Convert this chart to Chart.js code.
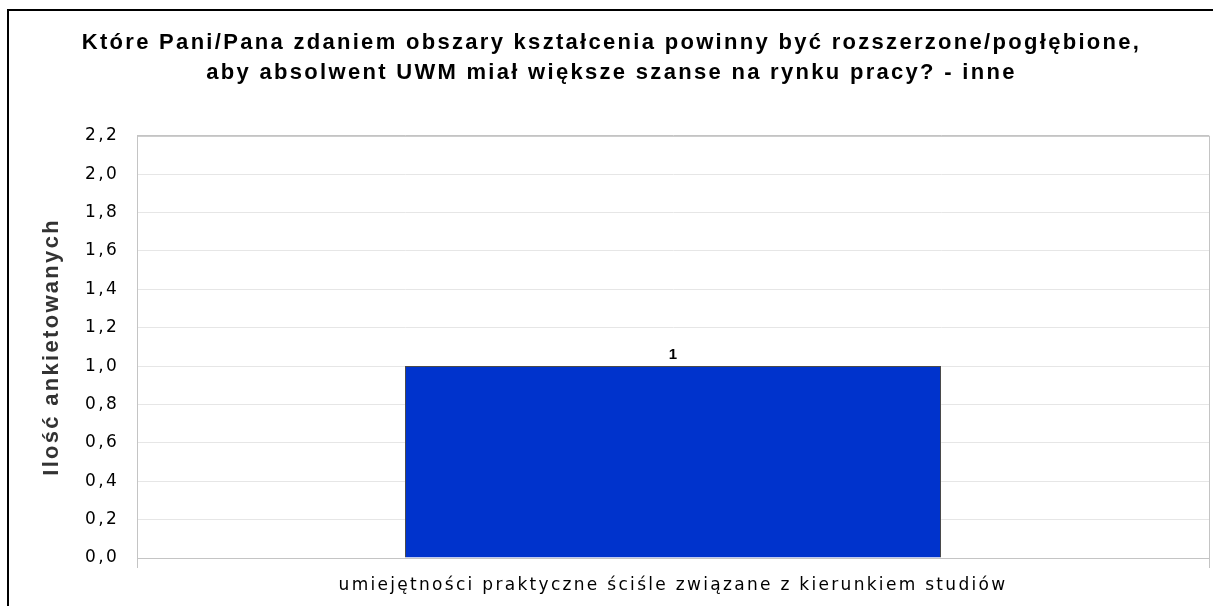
<!DOCTYPE html>
<html>
<head>
<meta charset="utf-8">
<script src="https://cdn.jsdelivr.net/npm/chart.js@4"></script>
<style>
    body { margin: 0; background: #fff; }
    .frame {
        position: absolute; left: 7px; top: 9px; width: 1206px; height: 597px;
        border-top: 2px solid #000; border-left: 2px solid #000;
    }
    #chart { position: absolute; left: 0; top: 0; }
</style>
</head>
<body>
<div class="frame"></div>
<canvas id="chart" width="1213" height="606"></canvas>
<script>
// data
const titleLines = [
    'Które Pani/Pana zdaniem obszary kształcenia powinny być rozszerzone/pogłębione,',
    'aby absolwent UWM miał większe szanse na rynku pracy? - inne'
];
const categories = ['umiejętności praktyczne ściśle związane z kierunkiem studiów'];
const answers = [1];
const yTitle = 'Ilość ankietowanych';
const yMin = 0, yMax = 2.2, yStep = 0.2;

// the original renders all text with wide letter spacing
const spacing = {
    id: 'spacing',
    beforeDraw(chart) {
        chart.ctx.letterSpacing = '2.3px';
    }
};

// value label above the bar
const barLabels = {
    id: 'barLabels',
    afterDatasetsDraw(chart) {
        const ctx = chart.ctx;
        ctx.save();
        ctx.letterSpacing = '0px';
        ctx.font = 'bold 15px "Liberation Sans"';
        ctx.fillStyle = '#000';
        ctx.textAlign = 'center';
        ctx.textBaseline = 'bottom';
        chart.getDatasetMeta(0).data.forEach((bar, i) => {
            ctx.fillText(answers[i], bar.x, bar.y - 4);
        });
        ctx.restore();
    }
};

// grey frame round the plot area
const plotFrame = {
    id: 'plotFrame',
    afterDraw(chart) {
        const a = chart.chartArea, ctx = chart.ctx;
        ctx.save();
        ctx.strokeStyle = '#c4c4c4';
        ctx.lineWidth = 1;
        ctx.strokeRect(a.left + 0.5, a.top + 0.5, a.right - a.left, a.bottom - a.top);
        ctx.restore();
    }
};

const ctx = document.getElementById('chart').getContext('2d');
const chart = new Chart(ctx, {
    type: 'bar',
    data: {
        labels: categories,
        datasets: [{
            data: answers,
            backgroundColor: '#0033cc',
            borderColor: '#4a4a4a',
            borderWidth: 1,
            categoryPercentage: 0.5,
            barPercentage: 1.0
        }]
    },
    options: {
        responsive: false,
        animation: false,
        layout: { padding: { left: 14, right: 4, top: 0, bottom: 0 } },
        plugins: {
            legend: { display: false },
            tooltip: { enabled: false },
            title: {
                display: true,
                text: titleLines,
                color: '#000',
                font: { family: 'Liberation Sans', size: 22, weight: 'bold', lineHeight: 1.36 },
                padding: { top: 28, bottom: 48 }
            }
        },
        scales: {
            x: {
                grid: { offset: true, color: '#c4c4c4', tickLength: 10 },
                border: { color: '#c4c4c4' },
                ticks: { color: '#000', font: { family: 'DejaVu Sans', size: 17 }, padding: 7 },
                afterFit(scale) { scale.height = 48; }
            },
            y: {
                min: yMin,
                max: yMax,
                grid: {
                    drawTicks: false,
                    color: c => c.tick && c.tick.value >= yMax - 1e-9 ? '#c4c4c4' : '#e6e6e6'
                },
                border: { color: '#c4c4c4' },
                ticks: {
                    stepSize: yStep,
                    color: '#000',
                    padding: 18,
                    font: { family: 'DejaVu Sans', size: 17 },
                    callback: v => v.toFixed(1).replace('.', ',')
                },
                title: {
                    display: true,
                    text: yTitle,
                    color: '#333',
                    font: { family: 'Liberation Sans', size: 22, weight: 'bold' },
                    padding: { top: 25, bottom: 0 }
                },
                afterFit(scale) { scale.width = 123; }
            }
        }
    },
    plugins: [spacing, barLabels, plotFrame]
});
</script>
</body>
</html>
